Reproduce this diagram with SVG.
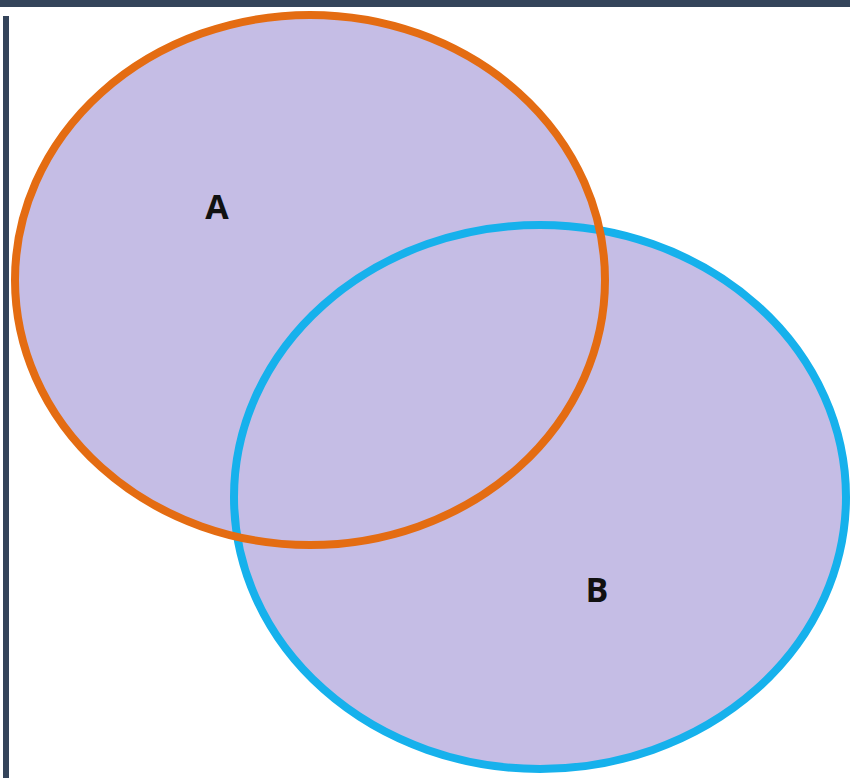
<svg xmlns="http://www.w3.org/2000/svg" width="850" height="778" viewBox="0 0 850 778">
<style>
.fill{fill:#c5bde5;stroke:none}
.lbl{font-family:"Open Sans","Liberation Sans",sans-serif;font-weight:bold;font-size:34px;fill:#111;text-anchor:middle}
.frame{fill:#34445a}
</style>
<rect x="0" y="0" width="850" height="778" fill="#ffffff"/>
<rect class="frame" x="0" y="0" width="850" height="7"/>
<rect class="frame" x="3" y="16" width="6" height="762"/>
<g id="fills">
<ellipse class="fill" cx="310" cy="280" rx="295" ry="265"/>
<ellipse class="fill" cx="540" cy="497" rx="306" ry="272"/>
</g>
<g id="setB">
<ellipse cx="540" cy="497" rx="306" ry="272" fill="none" stroke="#16b1ec" stroke-width="8"/>
<text class="lbl" x="597" y="602">B</text>
</g>
<g id="setA">
<ellipse cx="310" cy="280" rx="295" ry="265" fill="none" stroke="#e46c12" stroke-width="8"/>
<text class="lbl" x="217" y="219">A</text>
</g>
</svg>
